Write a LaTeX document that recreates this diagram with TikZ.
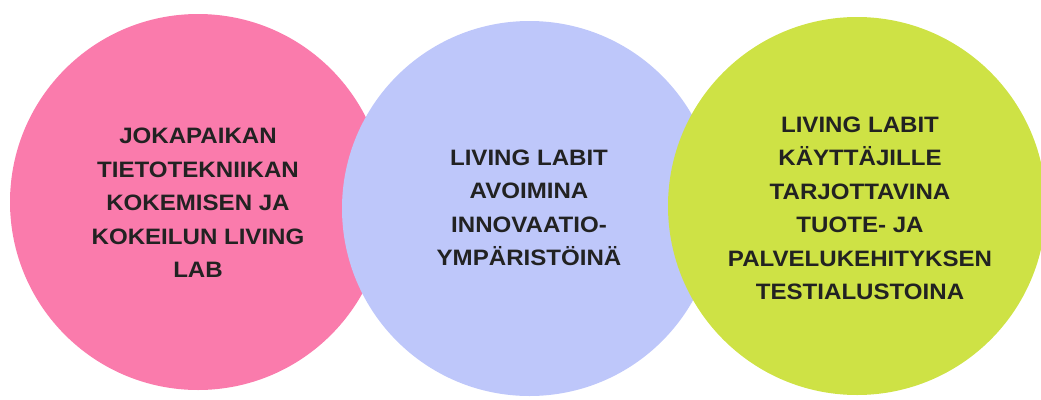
\documentclass[tikz,border=0pt]{standalone}
\usepackage{fontspec}
\setmainfont{Liberation Sans}
\newfontfamily\capfont[FakeStretch=1.08]{Liberation Sans}
\definecolor{rosa}{RGB}{250,123,172}
\definecolor{lavendel}{RGB}{190,199,250}
\definecolor{lime}{RGB}{206,226,69}
\definecolor{ink}{RGB}{34,34,34}
\begin{document}
\begin{tikzpicture}[x=1pt,y=-1pt,
  disc/.style={circle,inner sep=0pt,minimum size=#1,draw=none},
  caption/.style={align=center,text=ink,inner sep=0pt,
    font={\capfont\fontsize{22.3}{33.5}\selectfont\bfseries}}]
  \useasboundingbox (0,0) rectangle (1041,399);
  % three overlapping discs, later ones on top
  \node[disc=376pt,fill=rosa]     (left)  at (198,202)   {};
  \node[disc=375pt,fill=lavendel] (mid)   at (529.5,208.5) {};
  \node[disc=378pt,fill=lime]     (right) at (857,206)   {};
  % captions
  \node[caption] (tleft) at (198,203) {JOKAPAIKAN\\TIETOTEKNIIKAN\\KOKEMISEN JA\\KOKEILUN LIVING\\LAB};
  \node[caption] (tmid) at (529,208) {LIVING LABIT\\AVOIMINA\\INNOVAATIO-\\YMPÄRISTÖINÄ};
  \node[caption] (tright) at (860,208.5) {LIVING LABIT\\KÄYTTÄJILLE\\TARJOTTAVINA\\TUOTE- JA\\PALVELUKEHITYKSEN\\TESTIALUSTOINA};
\end{tikzpicture}
\end{document}
